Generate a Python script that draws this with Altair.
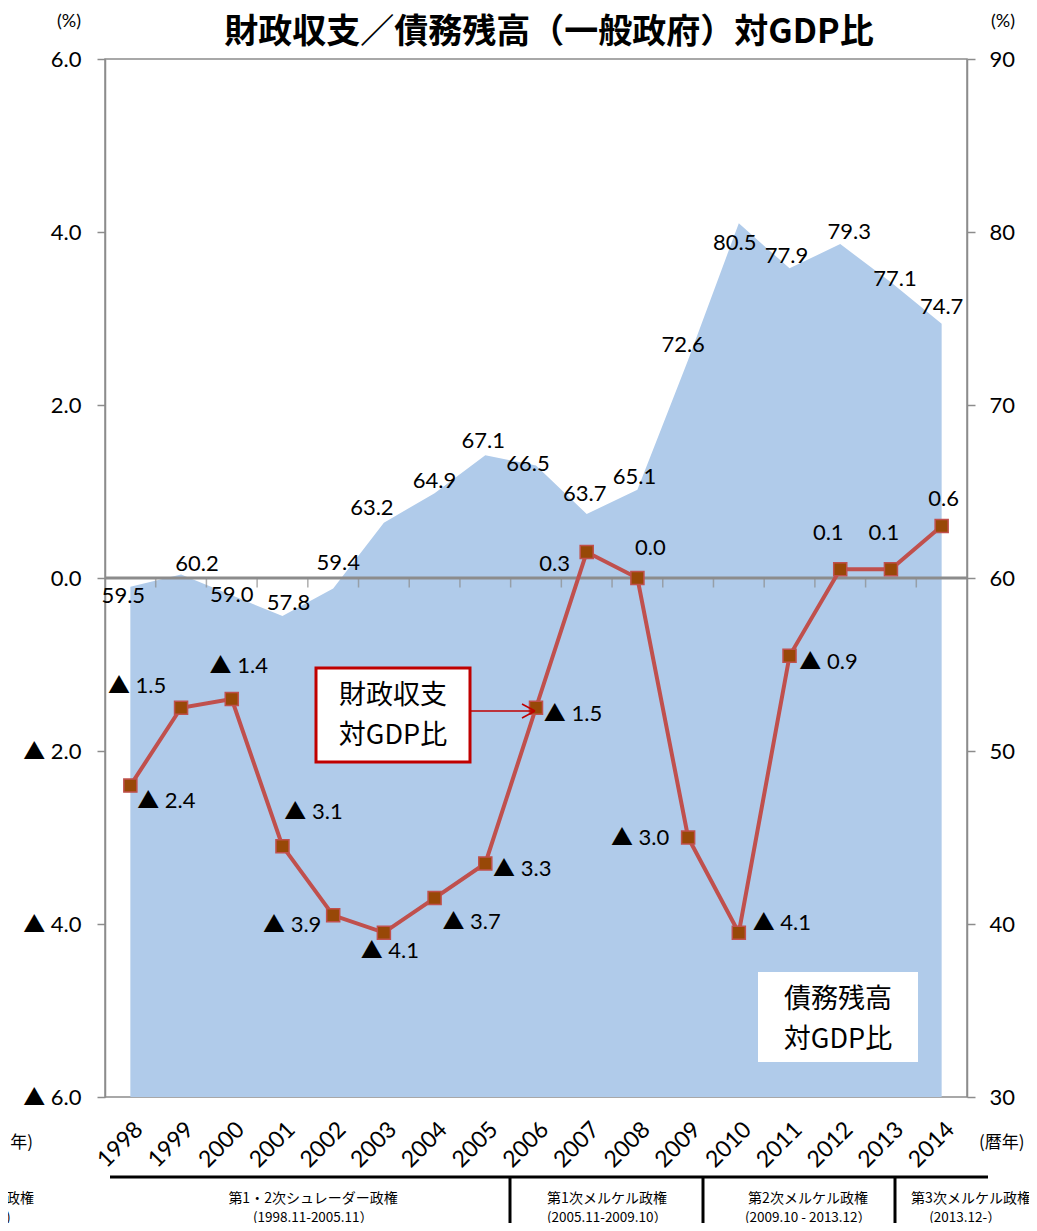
import altair as alt
import pandas as pd

# ---------------- data ----------------
years = list(range(1998, 2015))
debt = [59.5, 60.2, 59.0, 57.8, 59.4, 63.2, 64.9, 67.1, 66.5, 63.7, 65.1,
        72.6, 80.5, 77.9, 79.3, 77.1, 74.7]
balance = [-2.4, -1.5, -1.4, -3.1, -3.9, -4.1, -3.7, -3.3, -1.5, 0.3, 0.0,
           -3.0, -4.1, -0.9, 0.1, 0.1, 0.6]
left_ticks = [-6, -4, -2, 0, 2, 4, 6]
right_ticks = [30, 40, 50, 60, 70, 80, 90]
boundaries = [y + 0.5 for y in range(1998, 2014)]
gov_names = ["第1・2次シュレーダー政権", "第1次メルケル政権", "第2次メルケル政権", "第3次メルケル政権"]
gov_periods = ["(1998.11-2005.11）", "(2005.11-2009.10）", "(2009.10 - 2013.12）", "(2013.12-）"]

# label offsets (layout, pixels)
bal_dx = [36, -44, 7, 31, -41, 6, 37, 37, 37, -32, 13, -48, 43, 39, -12, -7, 2]
bal_dy = [15, -22, -33, -34, 10, 18, 24, 6, 6, 12, -30, 0, -10, 6, -36, -36, -27]
debt_dx = [-7, 16, 0, 6, 5, -12, 0, -2, -8, -2, -3, -5, -4, -3, 9, 4, 0]
debt_dy = [9, -11, 0, -13, -25, -15, -12, -14, -2, -20, -13, -15, 20, -12, -12, -3, -17]

W, H = 862, 1038
PX_X = W / 17.0      # px per year
PX_L = H / 12.0      # px per left unit
PX_R = H / 60.0      # px per right unit

NUM = "Lato, 'Noto Sans CJK JP', sans-serif"
JP = "'Noto Sans CJK JP', sans-serif"
GRAY = "#8c8c8c"

df = pd.DataFrame({
    "year": years,
    "debt": debt,
    "balance": balance,
    "year_label": [str(y) for y in years],
    "bal_label": [("▲ %.1f" % abs(v)) if v < 0 else ("%.1f" % v) for v in balance],
    "debt_label": ["%.1f" % v for v in debt],
    "bdx": bal_dx, "bdy": bal_dy, "ddx": debt_dx, "ddy": debt_dy,
})
bdf = pd.DataFrame({"b": boundaries, "zero": [0] * len(boundaries)})

xscale = alt.Scale(domain=[1997.5, 2014.5], nice=False, zero=False)
lscale = alt.Scale(domain=[-6, 6], nice=False, zero=False)
rscale = alt.Scale(domain=[30, 90], nice=False, zero=False)

base = alt.Chart(df)

area = base.mark_area(color="#b0cbea", opacity=1).encode(
    x=alt.X("year:Q", scale=xscale, axis=None),
    y=alt.Y("debt:Q", scale=rscale, title=None, axis=alt.Axis(
        orient="right", values=right_ticks, format="d", labelFontSize=22, labelFont=NUM,
        labelColor="black", tickSize=8, tickColor=GRAY, domainColor=GRAY,
        tickWidth=1.5, domainWidth=1.5, grid=False, title=None, labelPadding=14)),
    y2=alt.datum(30),
)
debt_text = base.transform_calculate(
    lx=f"datum.year + datum.ddx / {PX_X}",
    ly=f"datum.debt - datum.ddy / {PX_R}",
).mark_text(fontSize=22, font=NUM, color="black", align="center", baseline="middle").encode(
    x=alt.X("lx:Q", scale=xscale, axis=None),
    y=alt.Y("ly:Q", scale=rscale, axis=None),
    text="debt_label:N",
)

# year labels under the plot (category axis)
year_text = base.transform_calculate(
    lx=f"datum.year + 9 / {PX_X}",
).mark_text(fontSize=23, font=NUM, color="black", align="right", baseline="middle",
            angle=315).encode(
    x=alt.X("lx:Q", scale=xscale, axis=None),
    y=alt.value(H + 29),
    text="year_label:N",
)

zero_rule = alt.Chart(pd.DataFrame({"z": [0]})).mark_rule(color=GRAY, strokeWidth=3).encode(
    y=alt.Y("z:Q", scale=lscale, title=None, axis=alt.Axis(
        orient="left", values=left_ticks,
        labelExpr="datum.value < 0 ? '▲ ' + format(-datum.value, '.1f') : format(datum.value, '.1f')",
        labelFontSize=22, labelFont=NUM, labelColor="black", tickSize=8,
        tickColor=GRAY, domainColor=GRAY, tickWidth=1.5, domainWidth=1.5,
        grid=False, title=None, labelPadding=16)),
)
bticks = alt.Chart(bdf).mark_tick(color=GRAY, orient="vertical", size=9,
                                  thickness=1.5, yOffset=5).encode(
    x=alt.X("b:Q", scale=xscale, axis=None),
    y=alt.Y("zero:Q", scale=lscale, axis=None),
)
line = base.mark_line(color="#c0504d", strokeWidth=4).encode(
    x=alt.X("year:Q", scale=xscale, axis=None),
    y=alt.Y("balance:Q", scale=lscale, axis=None),
)
pts = base.mark_point(shape="square", filled=True, size=170, fill="#984807",
                      stroke="#c0504d", strokeWidth=1.5, opacity=1).encode(
    x=alt.X("year:Q", scale=xscale, axis=None),
    y=alt.Y("balance:Q", scale=lscale, axis=None),
)
bal_text = base.transform_calculate(
    lx=f"datum.year + datum.bdx / {PX_X}",
    ly=f"datum.balance - datum.bdy / {PX_L}",
).mark_text(fontSize=22, font=NUM, color="black", align="center", baseline="middle").encode(
    x=alt.X("lx:Q", scale=xscale, axis=None),
    y=alt.Y("ly:Q", scale=lscale, axis=None),
    text="bal_label:N",
)

# ---- annotations (pixel positions relative to plot area) ----
def txt(t, x, y, size, font=JP, align="center", weight="normal", color="black"):
    return alt.Chart(pd.DataFrame({"t": [t]})).mark_text(
        fontSize=size, font=font, align=align, baseline="middle",
        fontWeight=weight, color=color).encode(
        text="t:N", x=alt.value(x), y=alt.value(y))

def box(x, x2, y, y2, stroke=None, sw=0):
    kw = dict(fill="white")
    if stroke:
        kw.update(stroke=stroke, strokeWidth=sw)
    return alt.Chart(pd.DataFrame({"a": [0]})).mark_rect(**kw).encode(
        x=alt.value(x), x2=alt.value(x2), y=alt.value(y), y2=alt.value(y2))

def seg(x, x2, y, y2, color, sw):
    return alt.Chart(pd.DataFrame({"a": [0]})).mark_rule(color=color, strokeWidth=sw).encode(
        x=alt.value(x), x2=alt.value(x2), y=alt.value(y), y2=alt.value(y2))

ann = [
    txt("財政収支／債務残高（一般政府）対GDP比", 444, -26, 34, weight="bold"),
    txt("(%)", -36, -37, 18, font=NUM),
    txt("(%)", 898, -37, 18, font=NUM),
    box(211, 365, 609, 703, stroke="#c00000", sw=3),
    txt("財政収支", 288, 637, 27),
    txt("対GDP比", 288, 677, 27),
    seg(365, 430, 652, 652, "#c00000", 1.5),
    seg(417, 430, 645, 652, "#c00000", 1.5),
    seg(417, 430, 659, 652, "#c00000", 1.5),
    box(653, 813, 913, 1003),
    txt("債務残高", 733, 941, 27),
    txt("対GDP比", 733, 981, 27),
    txt("(暦年)", 874, 1084, 17, align="left"),
    txt("年)", -72, 1084, 17, align="right"),
    seg(5, 883, 1118, 1118, "black", 3),
    seg(405, 405, 1118, 1180, "black", 3),
    seg(598, 598, 1118, 1180, "black", 3),
    seg(790, 790, 1118, 1180, "black", 3),
    txt("ル政権", -71, 1140, 14, align="right"),
    txt(")", -99, 1159, 14, align="left"),
]
gx = [208, 502, 703, 866]
gx2 = [208, 502, 703, 860]
for n, p, a, b2 in zip(gov_names, gov_periods, gx, gx2):
    ann.append(txt(n, a, 1140, 14))
    ann.append(txt(p, b2, 1159, 13.5))

chart = alt.layer(area, debt_text, year_text, zero_rule, bticks, line, pts, bal_text,
                  *ann).resolve_scale(
    y="independent"
).properties(
    width=W, height=H,
    autosize=alt.AutoSizeParams(type="none"),
    padding={"left": 97, "top": 51, "right": 62, "bottom": 126},
    background="white",
).configure_view(stroke=GRAY, strokeWidth=1.5)

chart.save("out.html", embed_options={"renderer": "svg", "actions": False})
